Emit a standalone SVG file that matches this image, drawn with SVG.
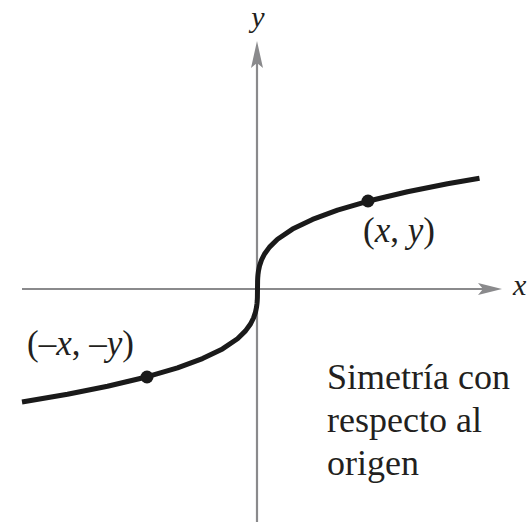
<svg xmlns="http://www.w3.org/2000/svg" width="531" height="522" viewBox="0 0 531 522">
<style>
.axis{stroke:#8a8a8c;stroke-width:2.2;fill:none}
.arrow{fill:#8a8a8c}
.curve{stroke:#1a1a1a;stroke-width:5;fill:none;stroke-linejoin:round;stroke-linecap:butt}
.dot{fill:#1a1a1a}
.t{font-family:"Liberation Serif","Times New Roman",serif;fill:#231f20}
.i{font-style:italic}
</style>
<rect width="531" height="522" fill="#ffffff"/>
<g id="axes">
<line class="axis" x1="22" y1="289" x2="490" y2="289"/>
<path class="arrow" d="M502,289 L478,283 L483,289 L478,295 Z"/>
<line class="axis" x1="257" y1="522" x2="257" y2="55"/>
<path class="arrow" d="M257,41 L251,68 L257,63 L263,68 Z"/>
<text class="t i" x="258" y="27" font-size="30" text-anchor="middle">y</text>
<text class="t i" x="513" y="295" font-size="30">x</text>
</g>
<g id="curve">
<polyline class="curve" points="22,402 67.5,394.2 107.5,386.2 147.5,376.7 177.5,367.9 202.5,358.6 222.5,348.9 237.5,338.7 245.5,330.9 250.5,324 253.5,318 255.5,312.1 256.5,307.3 257,303.5 257.25,300.5 257.4,297.5 257.5,289 257.6,280.5 257.75,277.5 258,274.5 258.5,270.7 259.5,265.9 261.5,260 264.5,254 269.5,247.1 277.5,239.3 292.5,229.1 312.5,219.4 337.5,210.1 367.5,201.3 407.5,191.8 447.5,183.8 479.5,178.2"/>
</g>
<g id="point-xy">
<circle class="dot" cx="368" cy="201" r="6.5"/>
<text class="t" x="363" y="242" font-size="35">(<tspan class="i">x</tspan>, <tspan class="i">y</tspan>)</text>
</g>
<g id="point-neg">
<circle class="dot" cx="147" cy="377" r="6.5"/>
<text class="t" x="27" y="355" font-size="35">(–<tspan class="i">x</tspan>, –<tspan class="i">y</tspan>)</text>
</g>
<g id="caption">
<text class="t" font-size="36"><tspan x="327" y="389">Simetría con</tspan><tspan x="327" y="432">respecto al</tspan><tspan x="327" y="475">origen</tspan></text>
</g>
</svg>
